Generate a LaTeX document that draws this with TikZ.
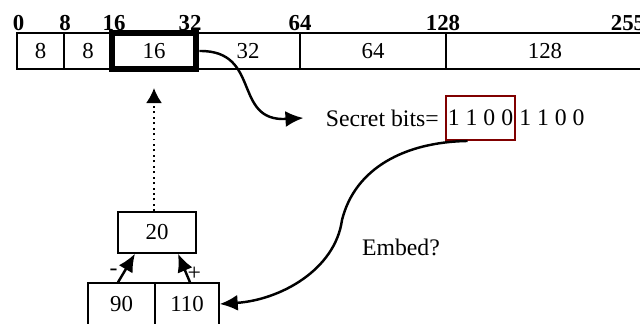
\documentclass[tikz,border=0pt]{standalone}
\usepackage{fontspec}
\setmainfont{Liberation Serif}
\usetikzlibrary{arrows.meta,positioning}
\definecolor{keyred}{HTML}{800000}
\tikzset{
  cell/.style={
    rectangle,
    draw=black,
    line width=0.8pt,
    minimum height=0.72cm,
    inner sep=0pt,
    font=\fontsize{13}{15}\selectfont,
  },
  selected cell/.style={
    cell,
    line width=3.7pt,
  },
  position/.style={
    inner sep=0pt,
    font=\bfseries\fontsize{13}{15}\selectfont,
  },
  plain text/.style={
    inner sep=0pt,
    font=\fontsize{13.5}{16}\selectfont,
  },
  key bits/.style={
    plain text,
    draw=keyred,
    line width=1.1pt,
    minimum width=1.38cm,
    minimum height=0.88cm,
  },
  pixel/.style={
    cell,
    minimum height=0.84cm,
  },
  flow/.style={
    -{Latex[length=0.36cm,width=0.32cm]},
    line width=1.4pt,
  },
  lookup/.style={
    -{Latex[length=0.3cm,width=0.32cm]},
    line width=1.1pt,
    dotted,
  },
}

\begin{document}
\begin{tikzpicture}[x=1cm,y=1cm]
  \clip (0,0) rectangle (12.8,-6.46);

  % Ranges of the difference value.
  \node[cell, minimum width=0.94cm] (c1) at (0.81,-1.02) {8};
  \node[cell, minimum width=0.96cm] (c2) at (1.76,-1.02) {8};
  \node[cell, minimum width=2.08cm] (c4) at (4.96,-1.02) {32};
  \node[cell, minimum width=2.92cm] (c5) at (7.46,-1.02) {64};
  \node[cell, minimum width=3.96cm] (c6) at (10.90,-1.02) {128};
  \node[selected cell, minimum width=1.68cm] (c3) at (3.08,-1.02) {16};

  % Range limits.
  \node[position] (l0) at (0.37,-0.47) {0};
  \node[position] (l8) at (1.30,-0.47) {8};
  \node[position] (l16) at (2.28,-0.47) {16};
  \node[position] (l32) at (3.80,-0.47) {32};
  \node[position] (l64) at (6.00,-0.47) {64};
  \node[position] (l128) at (8.86,-0.47) {128};
  \node[position] (l255) at (12.56,-0.47) {255};

  % Bits taken from the secret message.
  \node[key bits] (key) at (9.61,-2.36) {1 1 0 0};
  \node[plain text, left=0.12cm of key] (secret) {Secret bits=};
  \node[plain text, right=0.06cm of key] (rest) {1 1 0 0};

  % Pixel pair and its difference.
  \node[pixel, minimum width=1.34cm] (b1) at (2.43,-6.08) {90};
  \node[pixel, minimum width=1.28cm] (b2) at (3.74,-6.08) {110};
  \node[cell, minimum width=1.56cm, minimum height=0.82cm] (diff) at (3.14,-4.65) {20};

  \draw[flow] ([xshift=-0.07cm]b1.north) -- node[pos=0.35, left=3pt, plain text] {-} ([xshift=-0.44cm]diff.south);
  \draw[flow] ([xshift=0.06cm]b2.north) -- node[pos=0.3, right=0pt, plain text] {+} ([xshift=0.42cm]diff.south);

  \draw[lookup, shorten >=0.315cm] (c3.south |- diff.north) -- (c3.south);

  \draw[flow] (c3.east) .. controls (5.24,-1.0) and (4.64,-2.44) .. ([xshift=-0.44cm]secret.west);

  \draw[flow] ([xshift=-0.26cm]key.south) .. controls (8.1,-2.84) and (7.1,-3.36) .. (6.84,-4.4)
    .. controls (6.7,-5.4) and (5.6,-6.0) .. (b2.east);

  \node[plain text] (embed) at (8.02,-4.94) {Embed?};
\end{tikzpicture}
\end{document}
